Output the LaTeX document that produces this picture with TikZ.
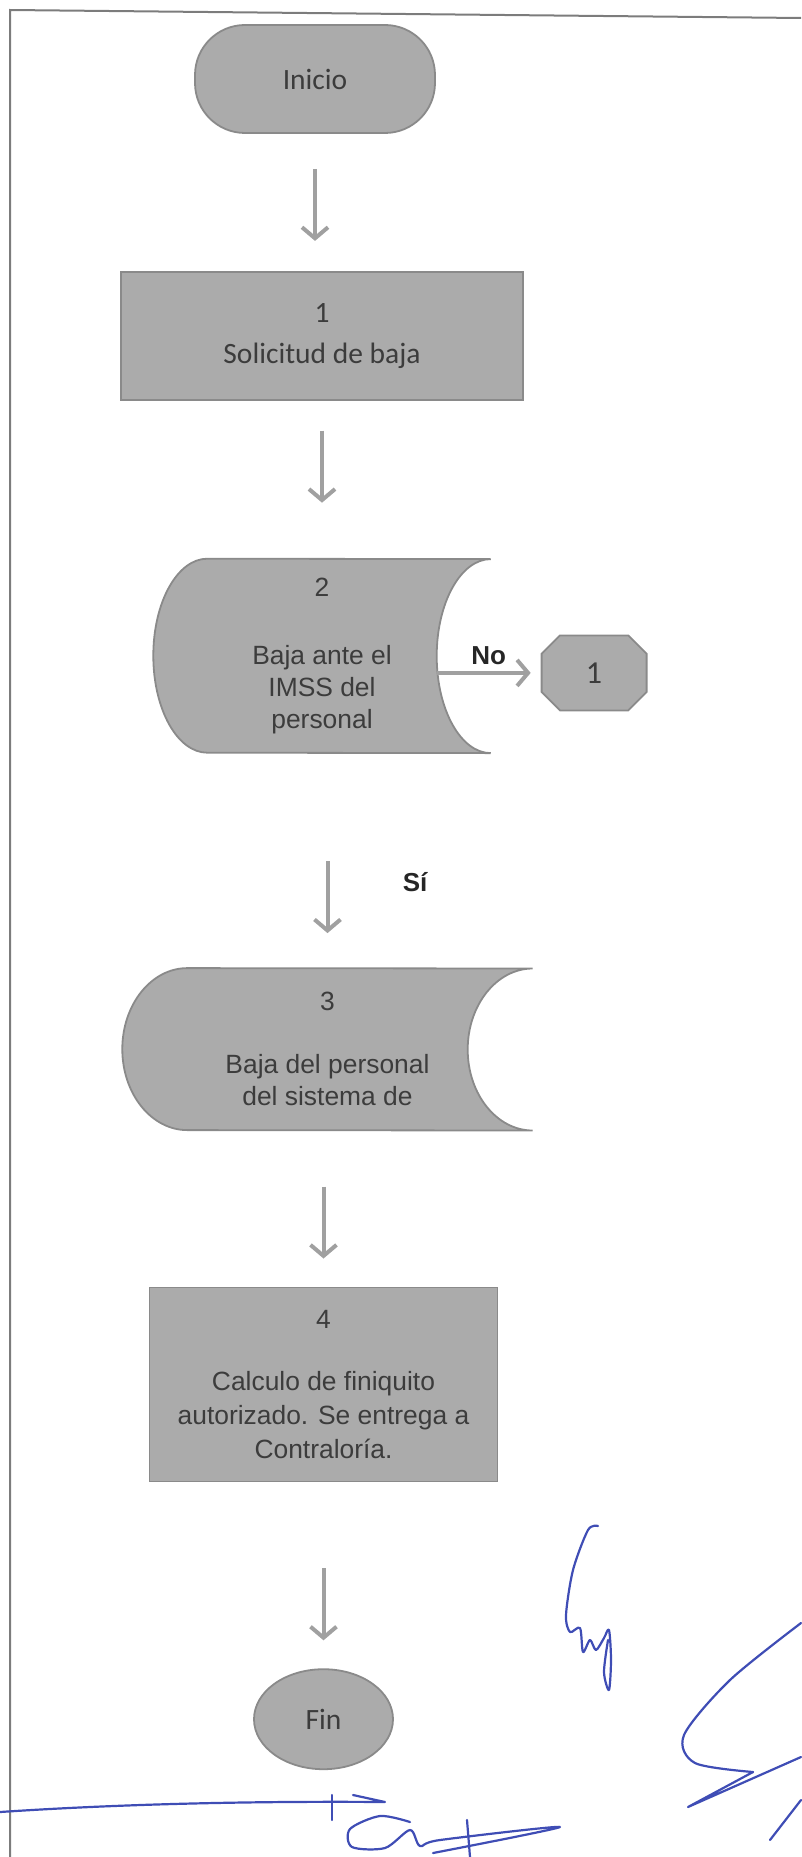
\documentclass[tikz,border=0pt]{standalone}
\usepackage{fontspec}
\setmainfont{Liberation Sans}
\newfontfamily\calibrifont{Carlito}
\usepackage{tikz}
\usetikzlibrary{positioning,arrows.meta,shapes.misc,shapes.geometric,backgrounds}
\definecolor{FlowFill}{HTML}{ABABAB}
\definecolor{FlowLine}{HTML}{8A8A8A}
\definecolor{FlowText}{HTML}{3C3C3C}
\definecolor{FlowArrow}{HTML}{A0A0A0}
\definecolor{PageLine}{HTML}{7C7C7C}
\definecolor{PenBlue}{HTML}{3F4DB5}

\begin{document}
\begin{tikzpicture}[x=1pt,y=-1pt,>={Straight Barb[length=11pt,width=26pt]}]
  \tikzstyle{flowbox}=[draw=FlowLine,fill=FlowFill,line width=1.8pt,text=FlowText,
    align=center,font=\fontsize{26.4}{34}\selectfont]
  \tikzstyle{flowcal}=[flowbox,font=\calibrifont\fontsize{29.5}{35}\selectfont]
  \tikzstyle{datanode}=[text=FlowText,align=center,inner sep=0pt,font=\fontsize{26.4}{32}\selectfont]
  \tikzstyle{datashape}=[draw=FlowLine,fill=FlowFill,line width=1.8pt]
  \tikzstyle{flowarrow}=[->,line width=4pt,color=FlowArrow]
  \tikzstyle{answer}=[text=black!85,font=\bfseries\fontsize{26}{30}\selectfont]
  \tikzstyle{pen}=[PenBlue,line width=2.2pt,line cap=round,line join=round]
  \useasboundingbox (0,0) rectangle (801,1857);
  % page frame
  \draw[PageLine,line width=2pt] (10,1857) -- (10,10) -- (801,18);

  \node[flowcal,rounded corners=50pt,minimum width=240pt,minimum height=108pt] (inicio) at (315,79) {Inicio};
  \node[flowcal,minimum width=402pt,minimum height=128pt,below=137pt of inicio,xshift=7pt] (sol) {1\\[6pt]Solicitud de baja};
  \node[datanode,minimum width=337pt,minimum height=194pt,below=158pt of sol] (baja) {2\\[36pt]Baja ante el\\IMSS del\\personal};
  \node[flowcal,chamfered rectangle,chamfered rectangle xsep=24pt,chamfered rectangle ysep=21pt,
    minimum width=105pt,minimum height=75pt,inner sep=0pt,right=50pt of baja,yshift=-17pt,
    font=\calibrifont\fontsize{32}{34}\selectfont] (con1) {1};
  \node[datanode,minimum width=410pt,minimum height=162pt,below=215pt of baja,xshift=5.5pt] (sist) {3\\[31pt]Baja del personal\\del sistema de};
  \node[flowbox,minimum width=348pt,minimum height=194pt,below=156pt of sist,xshift=-4pt] (calc) {4\\[28pt]Calculo de finiquito\\autorizado. Se entrega a\\Contraloría.};
  \node[flowcal,ellipse,inner sep=0pt,minimum width=139pt,minimum height=100pt,below=186pt of calc] (fin) {Fin};

  \begin{scope}[on background layer]
    \filldraw[datashape] ([xshift=54pt]baja.north west) arc[start angle=90,end angle=270,x radius=54pt,y radius=97pt]
      -- (baja.south east) arc[start angle=270,end angle=90,x radius=54pt,y radius=97pt] -- cycle;
    \filldraw[datashape] ([xshift=65pt]sist.north west) arc[start angle=90,end angle=270,x radius=65pt,y radius=81pt]
      -- (sist.south east) arc[start angle=270,end angle=90,x radius=65pt,y radius=81pt] -- cycle;
  \end{scope}

  \draw[flowarrow,shorten <=35pt,shorten >=30pt] (inicio.south) -- (inicio.south |- sol.north);
  \draw[flowarrow,shorten <=30pt,shorten >=56pt] (sol.south) -- (sol.south |- baja.north);
  \draw[flowarrow,shorten >=10pt] ([xshift=-54pt]baja.east |- con1.west) -- (con1.west)
    node[answer,pos=0.5,above=3pt] {No};
  \draw[flowarrow,shorten <=108pt,shorten >=35pt] (sist.north |- baja.south) -- (sist.north)
    node[answer,pos=0.6,right=70pt] {Sí};
  \draw[flowarrow,shorten <=56pt,shorten >=28pt] (calc.north |- sist.south) -- (calc.north);
  \draw[flowarrow,shorten <=86pt,shorten >=28pt] (calc.south) -- (fin.north);

  % pen marks
  \draw[pen] (0,1812) .. controls (120,1804) and (250,1801) .. (385,1802) -- (353,1795);
  \draw[pen] (332,1795) -- (332,1820);
  \draw[pen] plot[smooth] coordinates {(410,1822) (380,1816) (350,1829) (352,1847) (385,1848) (410,1830) (420,1846) (440,1840) (560,1827) (433,1853)};
  \draw[pen] (467,1820) -- (470,1857);
  \draw[pen] plot[smooth] coordinates {(598,1526) (588,1530) (573,1570) (566,1615) (570,1632) (580,1628) (583,1652) (590,1640) (596,1650) (604,1638) (609,1630) (611,1660) (609,1690) (604,1672) (608,1640)};
  \draw[pen] plot[smooth] coordinates {(801,1623) (730,1680) (684,1735) (695,1763) (753,1772)};
  \draw[pen] (753,1772) -- (688,1807) -- (801,1757);
  \draw[pen] (770,1840) -- (801,1800);
\end{tikzpicture}
\end{document}
